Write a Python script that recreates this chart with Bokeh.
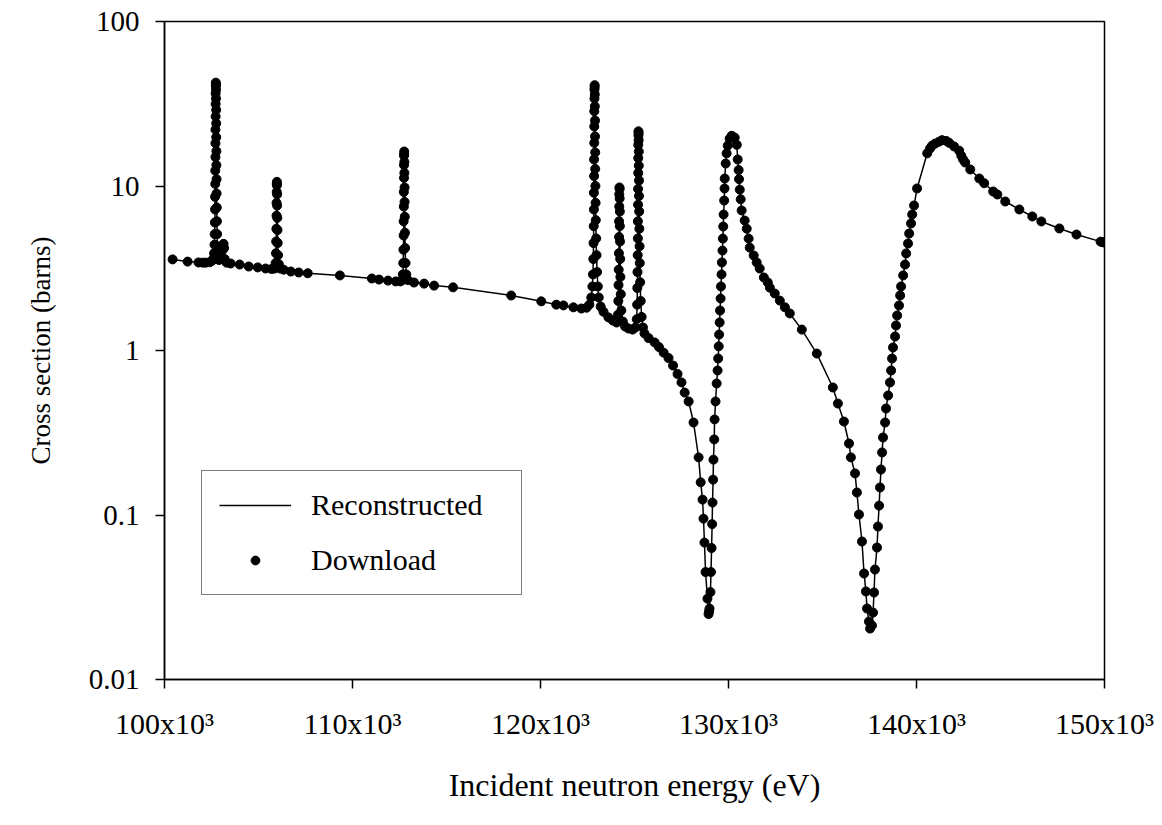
from bokeh.plotting import figure
from bokeh.models import FixedTicker, Legend, LegendItem, ColumnDataSource
from bokeh.embed import file_html
from bokeh.resources import INLINE

# ---- data (energy in keV, cross section in barns) ----
bg_a_e = [100.43, 101.23, 101.81, 102.03, 102.19, 102.40, 102.52, 102.60]
bg_a_s = [3.58, 3.47, 3.43, 3.42, 3.42, 3.44, 3.50, 3.62]

res1_e = [102.64, 102.66, 102.67, 102.68, 102.69, 102.69, 102.70, 102.70, 102.71, 102.71, 102.71,
          102.72, 102.72, 102.72, 102.73, 102.73, 102.74, 102.74, 102.74, 102.75, 102.75, 102.75,
          102.76, 102.76, 102.77, 102.77, 102.78, 102.79, 102.80, 102.82, 102.85, 102.90]
res1_s = [3.9, 4.4, 5.1, 6.0, 7.2, 8.6, 10.3, 12.4, 15.0, 18.2, 22.0,
          26.5, 31.5, 36.5, 40.5, 42.5, 41.5, 38.5, 34.0, 29.0, 24.0, 19.8,
          16.3, 13.4, 11.0, 9.0, 7.4, 6.1, 5.1, 4.3, 3.8, 3.55]

bg_b_e = [103.05, 103.10, 103.14, 103.17, 103.20, 103.30, 103.52, 104.00, 104.48, 104.96, 105.38, 105.70, 105.85]
bg_b_s = [3.7, 4.1, 4.45, 4.2, 3.6, 3.42, 3.38, 3.33, 3.24, 3.20, 3.15, 3.13, 3.15]

res2_e = [105.91, 105.93, 105.94, 105.95, 105.96, 105.96, 105.97, 105.97, 105.98,
          105.98, 105.99, 105.99, 106.00, 106.01, 106.02, 106.04, 106.08, 106.15]
res2_s = [3.4, 3.9, 4.6, 5.5, 6.6, 7.9, 9.2, 10.3, 10.6,
          10.1, 8.9, 7.6, 6.4, 5.4, 4.5, 3.8, 3.35, 3.15]

bg_c_e = [106.34, 106.72, 107.14, 107.62, 109.33, 111.03, 111.41, 111.89, 112.30, 112.55, 112.65]
bg_c_s = [3.10, 3.02, 2.98, 2.95, 2.86, 2.74, 2.70, 2.66, 2.63, 2.63, 2.68]

res3_e = [112.68, 112.70, 112.71, 112.72, 112.72, 112.73, 112.73, 112.74, 112.74, 112.74, 112.75,
          112.75, 112.76, 112.76, 112.77, 112.77, 112.78, 112.79, 112.80, 112.82, 112.86, 112.95]
res3_s = [2.9, 3.4, 4.1, 5.0, 6.1, 7.5, 9.2, 11.2, 13.4, 15.3, 16.2,
          15.6, 14.0, 12.0, 9.8, 8.0, 6.5, 5.2, 4.2, 3.4, 2.9, 2.68]

bg_d_e = [113.27, 113.81, 114.34, 115.35, 118.44, 120.04, 120.84, 121.22, 121.75, 122.17, 122.45, 122.60, 122.70, 122.76]
bg_d_s = [2.59, 2.55, 2.48, 2.42, 2.16, 1.99, 1.90, 1.88, 1.83, 1.80, 1.82, 1.90, 2.10, 2.45]

res4_e = [122.79, 122.81, 122.82, 122.83, 122.84, 122.84, 122.85, 122.85, 122.86, 122.86, 122.86,
          122.87, 122.87, 122.88, 122.88, 122.89, 122.89, 122.90, 122.90, 122.91, 122.91, 122.92,
          122.93, 122.94, 122.96, 122.98, 123.01, 123.05, 123.10, 123.20, 123.35, 123.61, 123.85, 124.05]
res4_s = [2.9, 3.6, 4.5, 5.7, 7.2, 9.1, 11.5, 14.5, 18.3, 23.0, 28.5,
          34.0, 38.5, 41.0, 40.0, 36.0, 30.5, 25.0, 20.0, 16.0, 12.7, 10.0,
          7.9, 6.2, 4.8, 3.8, 3.0, 2.45, 2.1, 1.85, 1.72, 1.59, 1.52, 1.48]

res5_e = [124.12, 124.14, 124.15, 124.16, 124.17, 124.18, 124.18, 124.19, 124.19, 124.20, 124.21, 124.21,
          124.22, 124.22, 124.23, 124.24, 124.25, 124.27, 124.30, 124.38, 124.50, 124.68, 124.90, 125.05]
res5_s = [1.65, 2.0, 2.5, 3.1, 3.9, 4.9, 6.1, 7.5, 8.9, 9.8, 9.6, 8.4,
          7.0, 5.7, 4.6, 3.6, 2.8, 2.2, 1.75, 1.5, 1.4, 1.36, 1.34, 1.38]

res6_e = [125.12, 125.14, 125.15, 125.16, 125.17, 125.18, 125.18, 125.19, 125.19, 125.20, 125.20, 125.20,
          125.21, 125.21, 125.22, 125.22, 125.23, 125.23, 125.24, 125.24, 125.25, 125.26, 125.27, 125.28,
          125.30, 125.33, 125.38, 125.45, 125.53]
res6_s = [1.55, 1.9, 2.4, 3.0, 3.8, 4.8, 6.1, 7.7, 9.6, 12.0, 14.8, 17.8,
          20.3, 21.5, 21.0, 19.0, 16.2, 13.3, 10.8, 8.7, 7.0, 5.5, 4.3, 3.4,
          2.6, 2.0, 1.6, 1.38, 1.27]

dip1_e = [125.75, 126.07, 126.30, 126.55, 126.81, 127.05, 127.29, 127.50, 127.67, 127.88, 128.14,
          128.41, 128.52, 128.62, 128.67, 128.72, 128.78, 128.88, 128.94, 128.97, 128.99, 129.04,
          129.07, 129.10, 129.13, 129.15, 129.18, 129.20, 129.24, 129.26, 129.31, 129.37]
dip1_s = [1.19, 1.12, 1.05, 0.97, 0.90, 0.81, 0.72, 0.64, 0.555, 0.49, 0.365,
          0.224, 0.158, 0.124, 0.095, 0.068, 0.045, 0.031, 0.025, 0.026, 0.027, 0.034,
          0.045, 0.063, 0.088, 0.119, 0.164, 0.217, 0.288, 0.381, 0.49, 0.63]

pk130_e = [129.42, 129.45, 129.48, 129.50, 129.53, 129.55, 129.58, 129.60, 129.63, 129.65, 129.68, 129.70,
           129.72, 129.74, 129.77, 129.79, 129.80, 129.85, 129.90, 129.96, 130.06, 130.17, 130.33, 130.44]
pk130_s = [0.756, 0.894, 1.06, 1.25, 1.48, 1.75, 2.07, 2.45, 2.90, 3.43, 4.05, 4.79,
           5.67, 6.71, 8.16, 9.66, 11.1, 13.7, 15.8, 17.6, 19.4, 20.2, 19.7, 17.8]

tail130_e = [130.49, 130.54, 130.56, 130.60, 130.65, 130.70, 130.86, 130.97, 131.07, 131.13, 131.34, 131.50,
             131.66, 131.88, 132.09, 132.20, 132.46, 132.73, 133.00, 133.26, 133.90, 134.70, 135.55, 135.82,
             136.14, 136.41, 136.51, 136.73, 136.83, 136.94, 137.10, 137.21, 137.31, 137.37, 137.47, 137.53]
tail130_s = [14.5, 12.5, 11.0, 9.5, 8.3, 7.1, 6.17, 5.5, 4.79, 4.22, 3.78, 3.43,
             3.15, 2.78, 2.59, 2.41, 2.22, 2.01, 1.83, 1.68, 1.34, 0.958, 0.596, 0.476,
             0.370, 0.272, 0.224, 0.179, 0.137, 0.1007, 0.069, 0.0441, 0.0343, 0.027, 0.0225, 0.0204]

rise141_e = [137.63, 137.69, 137.74, 137.79, 137.90, 137.95, 138.01, 138.06, 138.11, 138.17, 138.22, 138.33, 138.38,
             138.49, 138.59, 138.65, 138.70, 138.75, 138.86, 138.91, 138.97, 139.07, 139.13, 139.18, 139.29, 139.39,
             139.45, 139.55, 139.61, 139.71, 139.77, 139.87, 140.03, 140.57, 140.72, 140.83, 140.99, 141.20, 141.36]
rise141_s = [0.0213, 0.0255, 0.0338, 0.0466, 0.0634, 0.0851, 0.114, 0.147, 0.189, 0.240, 0.296, 0.365, 0.444,
             0.533, 0.639, 0.756, 0.894, 1.043, 1.216, 1.419, 1.632, 1.877, 2.16, 2.45, 2.86, 3.33,
             3.89, 4.47, 5.14, 5.92, 6.71, 7.61, 9.66, 15.8, 16.9, 17.6, 18.1, 18.6, 19.0]

tail141_e = [141.58, 141.74, 142.00, 142.27, 142.38, 142.48, 142.59, 142.86, 143.34, 143.60, 144.08,
             144.30, 144.72, 145.47, 146.16, 146.64, 147.60, 148.51, 149.79, 149.88, 149.95]
tail141_s = [18.8, 18.3, 17.4, 16.4, 15.3, 14.5, 13.9, 12.6, 11.1, 10.4, 9.26,
             8.88, 8.05, 7.20, 6.53, 6.09, 5.52, 5.07, 4.59, 4.56, 4.54]

x_ticks = [100000, 110000, 120000, 130000, 140000, 150000]
x_tick_labels = ["100x10³", "110x10³", "120x10³", "130x10³", "140x10³", "150x10³"]
y_ticks = [0.01, 0.1, 1, 10, 100]
y_tick_labels = ["0.01", "0.1", "1", "10", "100"]

segments_e = [bg_a_e, res1_e, bg_b_e, res2_e, bg_c_e, res3_e, bg_d_e, res4_e, res5_e, res6_e,
              dip1_e, pk130_e, tail130_e, rise141_e, tail141_e]
segments_s = [bg_a_s, res1_s, bg_b_s, res2_s, bg_c_s, res3_s, bg_d_s, res4_s, res5_s, res6_s,
              dip1_s, pk130_s, tail130_s, rise141_s, tail141_s]

energy_ev = []
sigma = []
for se, ss in zip(segments_e, segments_s):
    n = min(len(se), len(ss))
    energy_ev.extend([e * 1000.0 for e in se[:n]])
    sigma.extend(ss[:n])

src = ColumnDataSource(dict(x=energy_ev, y=sigma))

FONT = "Liberation Serif"

p = figure(width=1162, height=825, x_range=(100000, 150000), y_range=(0.01, 100),
           y_axis_type="log", output_backend="svg", toolbar_location=None,
           min_border_left=164, min_border_right=58, min_border_top=21, min_border_bottom=146,
           background_fill_color="white", border_fill_color="white")

p.xgrid.visible = False
p.ygrid.visible = False
p.outline_line_color = "black"
p.outline_line_width = 1.5

line_r = p.line("x", "y", source=src, line_color="black", line_width=1.5)
dots_r = p.scatter("x", "y", source=src, marker="circle", size=9, fill_color="black", line_color="black")

p.xaxis.ticker = FixedTicker(ticks=x_ticks, minor_ticks=[])
p.yaxis.ticker = FixedTicker(ticks=y_ticks, minor_ticks=[])
p.xaxis.major_label_overrides = {t: l for t, l in zip(x_ticks, x_tick_labels)}
p.yaxis.major_label_overrides = {t: l for t, l in zip(y_ticks, y_tick_labels)}

for ax in (p.xaxis[0], p.yaxis[0]):
    ax.axis_line_color = "black"
    ax.axis_line_width = 1.5
    ax.major_tick_line_color = "black"
    ax.major_tick_line_width = 1.5
    ax.major_tick_in = 0
    ax.major_tick_out = 9
    ax.minor_tick_line_color = None
    ax.major_label_text_font = FONT
    ax.major_label_text_color = "black"
    ax.axis_label_text_font = FONT
    ax.axis_label_text_font_style = "normal"
    ax.axis_label_text_color = "black"

p.xaxis.major_label_text_font_size = "30px"
p.yaxis.major_label_text_font_size = "29px"
p.xaxis.axis_label_text_font_size = "32px"
p.yaxis.axis_label_text_font_size = "27px"

p.xaxis.axis_label = "Incident neutron energy (eV)"
p.yaxis.axis_label = "Cross section (barns)"
p.xaxis.major_label_standoff = 18
p.yaxis.major_label_standoff = 16
p.xaxis.axis_label_standoff = 24
p.yaxis.axis_label_standoff = 30

legend = Legend(items=[LegendItem(label="Reconstructed", renderers=[line_r]),
                       LegendItem(label="Download", renderers=[dots_r])],
                location=(37, 84), margin=0, padding=17, spacing=21,
                glyph_width=72, glyph_height=22, label_height=30, label_width=193,
                label_standoff=20, border_line_color="black", border_line_width=1.5,
                background_fill_color="white", background_fill_alpha=1.0,
                label_text_font=FONT, label_text_font_size="30px", label_text_color="black")
p.add_layout(legend)

open("out.html", "w").write(file_html(p, INLINE))
